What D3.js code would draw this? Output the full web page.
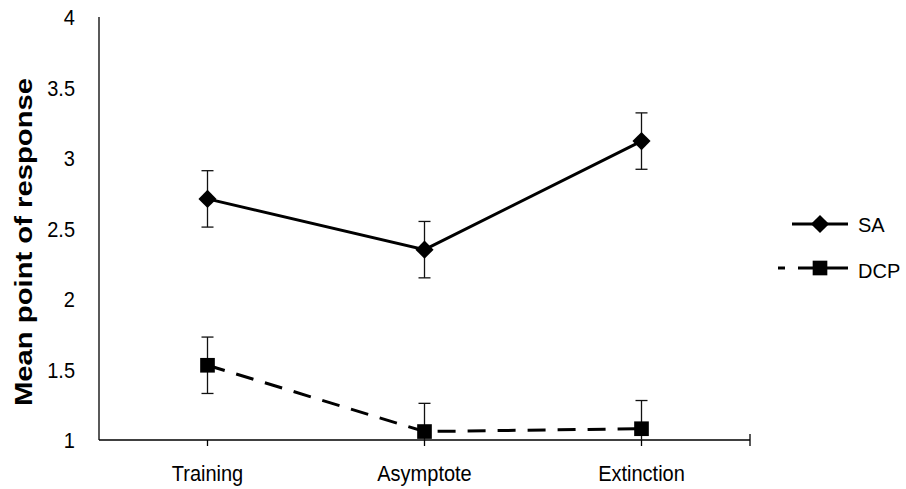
<!DOCTYPE html>
<html>
<head>
<meta charset="utf-8">
<script src="https://cdn.jsdelivr.net/npm/d3@7"></script>
<style>
  body { margin: 0; background: #fff; }
  text { font-family: "Liberation Sans", Arial, sans-serif; fill: #000; }
</style>
</head>
<body>
<div id="root"></div>
<script>
const categories = ["Training", "Asymptote", "Extinction"];
const saValues = [2.71, 2.35, 3.12];
const saErrors = [0.2, 0.2, 0.2];
const dcpValues = [1.53, 1.06, 1.08];
const dcpErrors = [0.2, 0.2, 0.2];
const yTicks = [1, 1.5, 2, 2.5, 3, 3.5, 4];

const series = [
  { name: "SA", values: saValues, errors: saErrors, symbol: "diamond", dash: null },
  { name: "DCP", values: dcpValues, errors: dcpErrors, symbol: "square", dash: "18,12" },
];

const width = 906;
const height = 489;
const plot = { left: 99, right: 750, top: 17, bottom: 440 };

const svg = d3.select("#root").append("svg")
  .attr("width", width)
  .attr("height", height);

const x = d3.scaleBand()
  .domain(categories)
  .range([plot.left, plot.right]);

const y = d3.scaleLinear()
  .domain([1, 4])
  .range([plot.bottom, plot.top]);

const cx = d => x(d) + x.bandwidth() / 2;

svg.append("defs").append("clipPath")
  .attr("id", "plot-clip")
  .append("rect")
  .attr("x", plot.left)
  .attr("y", plot.top)
  .attr("width", plot.right - plot.left)
  .attr("height", plot.bottom - plot.top);

// y axis
svg.append("line")
  .attr("x1", plot.left).attr("x2", plot.left)
  .attr("y1", plot.top).attr("y2", plot.bottom)
  .attr("stroke", "#000").attr("stroke-width", 1.3);

// labels in the original look slightly stretched vertically
svg.selectAll(".ytick")
  .data(yTicks)
  .join("text")
  .attr("class", "ytick")
  .attr("transform", d => `translate(${plot.left - 24}, ${y(d)}) scale(1, 1.12)`)
  .attr("dy", "0.36em")
  .attr("text-anchor", "end")
  .style("font-size", "20px")
  .text(d => d);

svg.append("text")
  .attr("transform", "translate(32, 242) rotate(-90)")
  .attr("text-anchor", "middle")
  .attr("textLength", 328)
  .attr("lengthAdjust", "spacingAndGlyphs")
  .style("font-size", "24px")
  .style("font-weight", "bold")
  .text("Mean point of response");

// x axis
svg.append("line")
  .attr("x1", plot.left).attr("x2", plot.right)
  .attr("y1", plot.bottom).attr("y2", plot.bottom)
  .attr("stroke", "#000").attr("stroke-width", 1.3);

svg.selectAll(".xtick")
  .data(categories)
  .join("line")
  .attr("class", "xtick")
  .attr("x1", cx).attr("x2", cx)
  .attr("y1", plot.bottom).attr("y2", plot.bottom + 6)
  .attr("stroke", "#000").attr("stroke-width", 1.3);

svg.append("line")
  .attr("x1", plot.right).attr("x2", plot.right)
  .attr("y1", plot.bottom - 6).attr("y2", plot.bottom + 6)
  .attr("stroke", "#000").attr("stroke-width", 1.3);

svg.selectAll(".xlabel")
  .data(categories)
  .join("text")
  .attr("class", "xlabel")
  .attr("transform", d => `translate(${cx(d)}, 481) scale(1, 1.1)`)
  .attr("text-anchor", "middle")
  .style("font-size", "20px")
  .text(d => d);

const symbolPath = (type) => type === "diamond"
  ? d3.symbol(d3.symbolDiamond2, 210)()
  : d3.symbol(d3.symbolSquare, 215)();

const chart = svg.append("g").attr("clip-path", "url(#plot-clip)");

series.forEach(s => {
  const pts = categories.map((c, i) => ({ c, v: s.values[i], e: s.errors[i] }));

  chart.append("path")
    .datum(pts)
    .attr("fill", "none")
    .attr("stroke", "#000")
    .attr("stroke-width", 3)
    .attr("stroke-dasharray", s.dash)
    .attr("d", d3.line().x(d => cx(d.c)).y(d => y(d.v)));

  const err = chart.append("g").selectAll("g")
    .data(pts)
    .join("g")
    .attr("stroke", "#111")
    .attr("stroke-width", 1.3);

  err.append("line")
    .attr("x1", d => cx(d.c)).attr("x2", d => cx(d.c))
    .attr("y1", d => y(d.v + d.e)).attr("y2", d => y(d.v - d.e));
  err.append("line")
    .attr("x1", d => cx(d.c) - 6).attr("x2", d => cx(d.c) + 6)
    .attr("y1", d => y(d.v + d.e)).attr("y2", d => y(d.v + d.e));
  err.append("line")
    .attr("x1", d => cx(d.c) - 6).attr("x2", d => cx(d.c) + 6)
    .attr("y1", d => y(d.v - d.e)).attr("y2", d => y(d.v - d.e));

  svg.append("g").selectAll("path")
    .data(pts)
    .join("path")
    .attr("transform", d => `translate(${cx(d.c)}, ${y(d.v)})`)
    .attr("d", symbolPath(s.symbol))
    .attr("fill", "#000");
});

// legend
const legend = svg.append("g");
series.forEach((s, i) => {
  const ly = 224 + i * 44;
  const g = legend.append("g").attr("transform", `translate(0, ${ly})`);
  if (s.dash) {
    g.append("line").attr("x1", 778).attr("x2", 785).attr("y1", 0).attr("y2", 0)
      .attr("stroke", "#000").attr("stroke-width", 3);
    g.append("line").attr("x1", 798).attr("x2", 848).attr("y1", 0).attr("y2", 0)
      .attr("stroke", "#000").attr("stroke-width", 3);
  } else {
    g.append("line").attr("x1", 792).attr("x2", 848).attr("y1", 0).attr("y2", 0)
      .attr("stroke", "#000").attr("stroke-width", 3);
  }
  g.append("path")
    .attr("transform", "translate(820, 0)")
    .attr("d", symbolPath(s.symbol))
    .attr("fill", "#000");
  g.append("text")
    .attr("x", 858)
    .attr("y", 1 + i * 2)
    .attr("dy", "0.36em")
    .style("font-size", "20px")
    .text(s.name);
});
</script>
</body>
</html>
